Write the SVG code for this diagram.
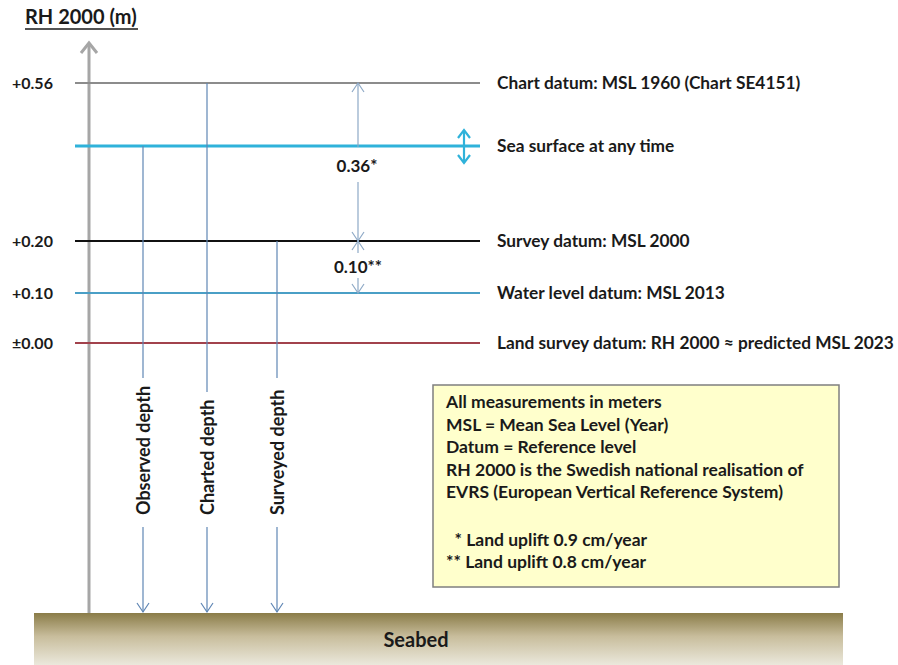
<svg xmlns="http://www.w3.org/2000/svg" width="898" height="665" viewBox="0 0 898 665">
<style>
  text { font-family: Lato, "Liberation Sans", sans-serif; font-weight: bold; fill: #1a1a1a; }
  .lab { font-size: 17.3px; }
  .lev { font-size: 16px; text-anchor: start; }
  .box { font-size: 17.5px; }
  .dim { font-size: 17px; text-anchor: middle; }
  .dep { font-size: 18px; }
  .depth { stroke: #5f86b4; stroke-width: 1.2; fill: none; }
  .dimln { stroke: #8ea9c6; stroke-width: 1.2; fill: none; }
</style>
<defs>
  <marker id="ahDepth" markerUnits="userSpaceOnUse" viewBox="-10 -7 12 14" refX="0" refY="0" markerWidth="12" markerHeight="14" orient="auto">
    <path d="M-9,-6 L0,0 L-9,6" fill="none" stroke="#5f86b4" stroke-width="1.2"/>
  </marker>
  <marker id="ahDim" markerUnits="userSpaceOnUse" viewBox="-10 -7 12 14" refX="0" refY="0" markerWidth="12" markerHeight="14" orient="auto">
    <path d="M-9,-6 L0,0 L-9,6" fill="none" stroke="#8ea9c6" stroke-width="1.2"/>
  </marker>
  <marker id="ahSea" markerUnits="userSpaceOnUse" viewBox="-10 -8 12 16" refX="0" refY="0" markerWidth="12" markerHeight="16" orient="auto">
    <path d="M-8,-6 L0,0 L-8,6" fill="none" stroke="#2fb2da" stroke-width="2.2"/>
  </marker>
  <linearGradient id="seabedGrad" x1="0" y1="0" x2="0" y2="1">
    <stop offset="0" stop-color="#8a7c48"/>
    <stop offset="0.45" stop-color="#c8bd9c"/>
    <stop offset="1" stop-color="#ebe8dc"/>
  </linearGradient>
</defs>

<g id="title">
  <text x="25" y="24" font-size="20">RH 2000 (m)</text>
  <line x1="25" y1="29" x2="138" y2="29" stroke="#1a1a1a" stroke-width="1.4"/>
</g>

<g id="seabed">
  <rect x="34" y="613" width="809" height="52" fill="url(#seabedGrad)"/>
  <text x="416" y="647" font-size="20" text-anchor="middle">Seabed</text>
</g>

<g id="axis">
  <line x1="89" y1="43" x2="89" y2="613" stroke="#a6a6a6" stroke-width="3"/>
  <path d="M81,53 L89,43 L97,53" fill="none" stroke="#a6a6a6" stroke-width="3"/>
</g>

<g id="level-chart-datum">
  <line x1="75" y1="83" x2="480" y2="83" stroke="#8c8c8c" stroke-width="1.8"/>
  <text class="lev" x="12" y="88.5">+0.56</text>
  <text class="lab" x="497" y="89">Chart datum: MSL 1960 (Chart SE4151)</text>
</g>

<g id="level-sea-surface">
  <line x1="75" y1="146" x2="480" y2="146" stroke="#2fb2da" stroke-width="3.2"/>
  <text class="lab" x="497" y="152">Sea surface at any time</text>
</g>

<g id="level-survey-datum">
  <line x1="75" y1="241" x2="480" y2="241" stroke="#111111" stroke-width="1.8"/>
  <text class="lev" x="12" y="246.5">+0.20</text>
  <text class="lab" x="497" y="247">Survey datum: MSL 2000</text>
</g>

<g id="level-water-level-datum">
  <line x1="75" y1="293" x2="480" y2="293" stroke="#4a9fc6" stroke-width="2"/>
  <text class="lev" x="12" y="298.5">+0.10</text>
  <text class="lab" x="497" y="299">Water level datum: MSL 2013</text>
</g>

<g id="level-land-survey-datum">
  <line x1="75" y1="343" x2="480" y2="343" stroke="#a2424c" stroke-width="2"/>
  <text class="lev" x="12" y="348.5">±0.00</text>
  <text class="lab" x="497" y="349">Land survey datum: RH 2000 ≈ predicted MSL 2023</text>
</g>

<g id="info-box">
  <rect x="433" y="385" width="406" height="202" fill="#ffffcc" stroke="#7f7f7f" stroke-width="1.5"/>
  <text class="box" x="446" y="408">All measurements in meters</text>
  <text class="box" x="446" y="431">MSL = Mean Sea Level (Year)</text>
  <text class="box" x="446" y="453">Datum = Reference level</text>
  <text class="box" x="446" y="476">RH 2000 is the Swedish national realisation of</text>
  <text class="box" x="446" y="498">EVRS (European Vertical Reference System)</text>
  <text class="box" x="446" y="546" xml:space="preserve">  * Land uplift 0.9 cm/year</text>
  <text class="box" x="446" y="568">** Land uplift 0.8 cm/year</text>
</g>

<g id="connectors">
  <!-- sea surface variation -->
  <line x1="464" y1="146" x2="464" y2="130" stroke="#2fb2da" stroke-width="2.2" marker-end="url(#ahSea)"/>
  <line x1="464" y1="146" x2="464" y2="163" stroke="#2fb2da" stroke-width="2.2" marker-end="url(#ahSea)"/>

  <!-- 0.36* dimension -->
  <line class="dimln" x1="358" y1="147" x2="358" y2="83" marker-end="url(#ahDim)"/>
  <line class="dimln" x1="358" y1="182" x2="358" y2="241" marker-end="url(#ahDim)"/>
  <text class="dim" x="357" y="172">0.36*</text>

  <!-- 0.10** dimension -->
  <line class="dimln" x1="358" y1="253" x2="358" y2="241" marker-end="url(#ahDim)"/>
  <line class="dimln" x1="358" y1="278" x2="358" y2="293" marker-end="url(#ahDim)"/>
  <text class="dim" x="358" y="273">0.10**</text>

  <!-- Observed depth -->
  <line class="depth" x1="143" y1="146" x2="143" y2="378"/>
  <line class="depth" x1="143" y1="527" x2="143" y2="612" marker-end="url(#ahDepth)"/>
  <text class="dep" transform="translate(149.5,515) rotate(-90)">Observed depth</text>

  <!-- Charted depth -->
  <line class="depth" x1="207" y1="83" x2="207" y2="392"/>
  <line class="depth" x1="207" y1="527" x2="207" y2="612" marker-end="url(#ahDepth)"/>
  <text class="dep" transform="translate(213.5,515) rotate(-90)">Charted depth</text>

  <!-- Surveyed depth -->
  <line class="depth" x1="277" y1="241" x2="277" y2="378"/>
  <line class="depth" x1="277" y1="527" x2="277" y2="612" marker-end="url(#ahDepth)"/>
  <text class="dep" transform="translate(283.5,515) rotate(-90)">Surveyed depth</text>
</g>
</svg>
